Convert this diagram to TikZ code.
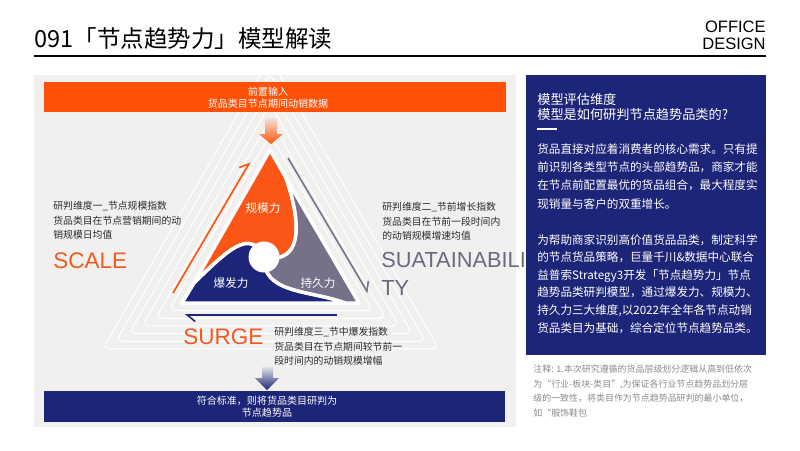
\documentclass[tikz,border=0pt]{standalone}
\usepackage{fontspec}
\setmainfont{Noto Sans CJK SC}
\newfontfamily\latinfont{Liberation Sans}
\usetikzlibrary{arrows.meta,calc}

\definecolor{pageorange}{HTML}{FF5208}
\definecolor{bladeorange}{HTML}{FB5615}
\definecolor{wordorange}{HTML}{F05A22}
\definecolor{pagenavy}{HTML}{1C2577}
\definecolor{bladegray}{HTML}{767088}
\definecolor{wordgray}{HTML}{6C6880}
\definecolor{panelgray}{HTML}{F1F0EE}
\definecolor{inkdark}{HTML}{2A2A2A}
\definecolor{notegray}{HTML}{8A8A8A}

\tikzset{>={Straight Barb[harpoon,length=1.6mm,width=2.6mm]}}
\tikzset{bodytext/.style={anchor=north west, inner sep=0pt, align=left, text=inkdark,
    font=\fontsize{5.6}{8.2}\selectfont}}
\tikzset{bartext/.style={inner sep=0pt, align=center, text=white,
    font=\fontsize{5.7}{6.6}\selectfont}}
\tikzset{bigword/.style={anchor=north west, inner sep=0pt, align=left,
    font=\latinfont\fontsize{12.8}{15.9}\selectfont}}
\tikzset{blade/.style={draw=white, line width=2pt, line join=round}}
\tikzset{bladelabel/.style={inner sep=0pt, text=white, font=\fontsize{6.6}{8}\selectfont}}
\tikzset{sidetext/.style={anchor=north west, inner sep=0pt, align=left, text=white}}
\tikzset{bgline/.style={draw=white, line width=0.6pt, rounded corners=4pt}}

\begin{document}
\begin{tikzpicture}[x=0.02cm, y=-0.02cm]
    \useasboundingbox (0,0) rectangle (800,450);

    % header
    \node(title) [anchor=base west, inner sep=0pt, font=\fontsize{13.4}{16}\selectfont] at (34,47) {091「节点趋势力」模型解读};
    \node(brand) [anchor=north east, inner sep=0pt, align=right, font=\latinfont\fontsize{9.4}{9.6}\selectfont] at (766,21) {OFFICE\\DESIGN};
    \coordinate (rulel) at (34,56);
    \coordinate (ruler) at (766,56);
    \draw [line width=0.8pt] (rulel) -- (ruler);

    % model panel
    \node(panel) [fill=panelgray, minimum width=9.64cm, minimum height=7.04cm, inner sep=0pt] at (275,251) {};

    \coordinate (A) at (270,150);
    \coordinate (B) at (182,303);
    \coordinate (C) at (359,303);
    \coordinate (G) at (270,252);
    \coordinate (O) at (264,257);
    \coordinate (L1) at (194,283);
    \coordinate (G0) at (286,178);
    \coordinate (N1) at (345,303);

    \begin{scope}
        \clip (34,75) rectangle (516,427);
        \foreach \s in {1.15,1.3,...,1.96}
            \draw [bgline] ($(G)!\s!(A)$) -- ($(G)!\s!(B)$) -- ($(G)!\s!(C)$) -- cycle;
    \end{scope}

    \node(inputbar) [fill=pageorange, minimum width=9.24cm, minimum height=0.6cm, inner sep=0pt] at (275,97) {};
    \node(inputtext) [bartext] at (268,97.5) {前置输入\\货品类目节点期间动销数据};

    \shade [top color=pageorange!8!panelgray, bottom color=pageorange]
        (265,118) -- (277,118) -- (277,134) -- (283,134) -- (271,144) -- (259,134) -- (265,134) -- cycle;

    % the three blades
    \filldraw [blade, fill=bladeorange] (A) -- (L1) .. controls (228,250) and (250,228) .. (O)
        .. controls (308,266) and (298,212) .. (G0) -- cycle;
    \filldraw [blade, fill=bladegray] (G0) .. controls (298,212) and (308,266) .. (O)
        .. controls (262,294) and (310,290) .. (N1) -- (C) -- cycle;
    \filldraw [blade, fill=pagenavy] (B) -- (N1) .. controls (310,290) and (262,294) .. (O)
        .. controls (250,228) and (228,250) .. (L1) -- cycle;
    \fill [white] (O) circle [radius=0.31cm];

    \node(scalelbl) [bladelabel] at (263,208) {规模力};
    \node(surgelbl) [bladelabel] at (231,283) {爆发力};
    \node(sustlbl)  [bladelabel] at (318,283) {持久力};

    % side arrows
    \coordinate (os) at (173,293);
    \coordinate (oe) at (250,162);
    \coordinate (gs) at (288,158);
    \coordinate (ge) at (368,293);
    \coordinate (ns) at (337,315);
    \coordinate (ne) at (185,315);
    \draw [->, pageorange, line width=0.9pt] (os) -- (oe);
    \draw [->, bladegray, line width=0.9pt] (gs) -- (ge);
    \draw [->, pagenavy, line width=0.9pt] (ns) -- (ne);

    % dimensions
    \node(dimone) [bodytext] at (53,201) {研判维度一\_节点规模指数\\货品类目在节点营销期间的动\\销规模日均值};
    \node(scale) [bigword, text=wordorange] at (53,252) {SCALE};
    \node(dimtwo) [bodytext] at (382,202) {研判维度二\_节前增长指数\\货品类目在节前一段时间内\\的动销规模增速均值};
    \node(sust) [bigword, text=wordgray, font=\latinfont\fontsize{12.4}{15.9}\selectfont] at (381,252) {SUATAINABILI\\TY};
    \node(surge) [bigword, text=wordorange] at (183,328) {SURGE};
    \node(dimthree) [bodytext] at (274,327) {研判维度三\_节中爆发指数\\货品类目在节点期间较节前一\\段时间内的动销规模增幅};

    \shade [top color=pagenavy!8!panelgray, bottom color=pagenavy]
        (262,367) -- (273,367) -- (273,378) -- (279,378) -- (267,390) -- (255,378) -- (262,378) -- cycle;

    \node(outbar) [fill=pagenavy, minimum width=9.22cm, minimum height=0.62cm, inner sep=0pt] at (274.5,406.5) {};
    \node(outtext) [bartext] at (267,406.5) {符合标准，则将货品类目研判为\\节点趋势品};

    % side panel
    \node(side) [fill=pagenavy, minimum width=4.8cm, minimum height=5.6cm, inner sep=0pt] at (646,215) {};
    \node(sidehead) [sidetext, font=\fontsize{7.5}{8.5}\selectfont] at (537,93) {模型评估维度\\模型是如何研判节点趋势品类的?};
    \coordinate (barl) at (537,129);
    \coordinate (barr) at (557,129);
    \draw [white, line width=1.1pt] (barl) -- (barr);
    \node(sideone) [sidetext, font=\fontsize{6.6}{10.4}\selectfont] at (537,143) {货品直接对应着消费者的核心需求。只有提\\前识别各类型节点的头部趋势品，商家才能\\在节点前配置最优的货品组合，最大程度实\\现销量与客户的双重增长。};
    \node(sidetwo) [sidetext, font=\fontsize{6.6}{10}\selectfont] at (537,234) {为帮助商家识别高价值货品品类，制定科学\\的节点货品策略，巨量千川\&数据中心联合\\益普索Strategy3开发「节点趋势力」节点\\趋势品类研判模型，通过爆发力、规模力、\\持久力三大维度,以2022年全年各节点动销\\货品类目为基础，综合定位节点趋势品类。};
    \node(note) [anchor=north west, inner sep=0pt, align=left, text=notegray, font=\fontsize{5.1}{8.2}\selectfont] at (533,365) {注释: 1.本次研究遵循的货品层级划分逻辑从高到低依次\\为“行业-板块-类目”,为保证各行业节点趋势品划分层\\级的一致性，将类目作为节点趋势品研判的最小单位，\\如“服饰鞋包};

\end{tikzpicture}
\end{document}
